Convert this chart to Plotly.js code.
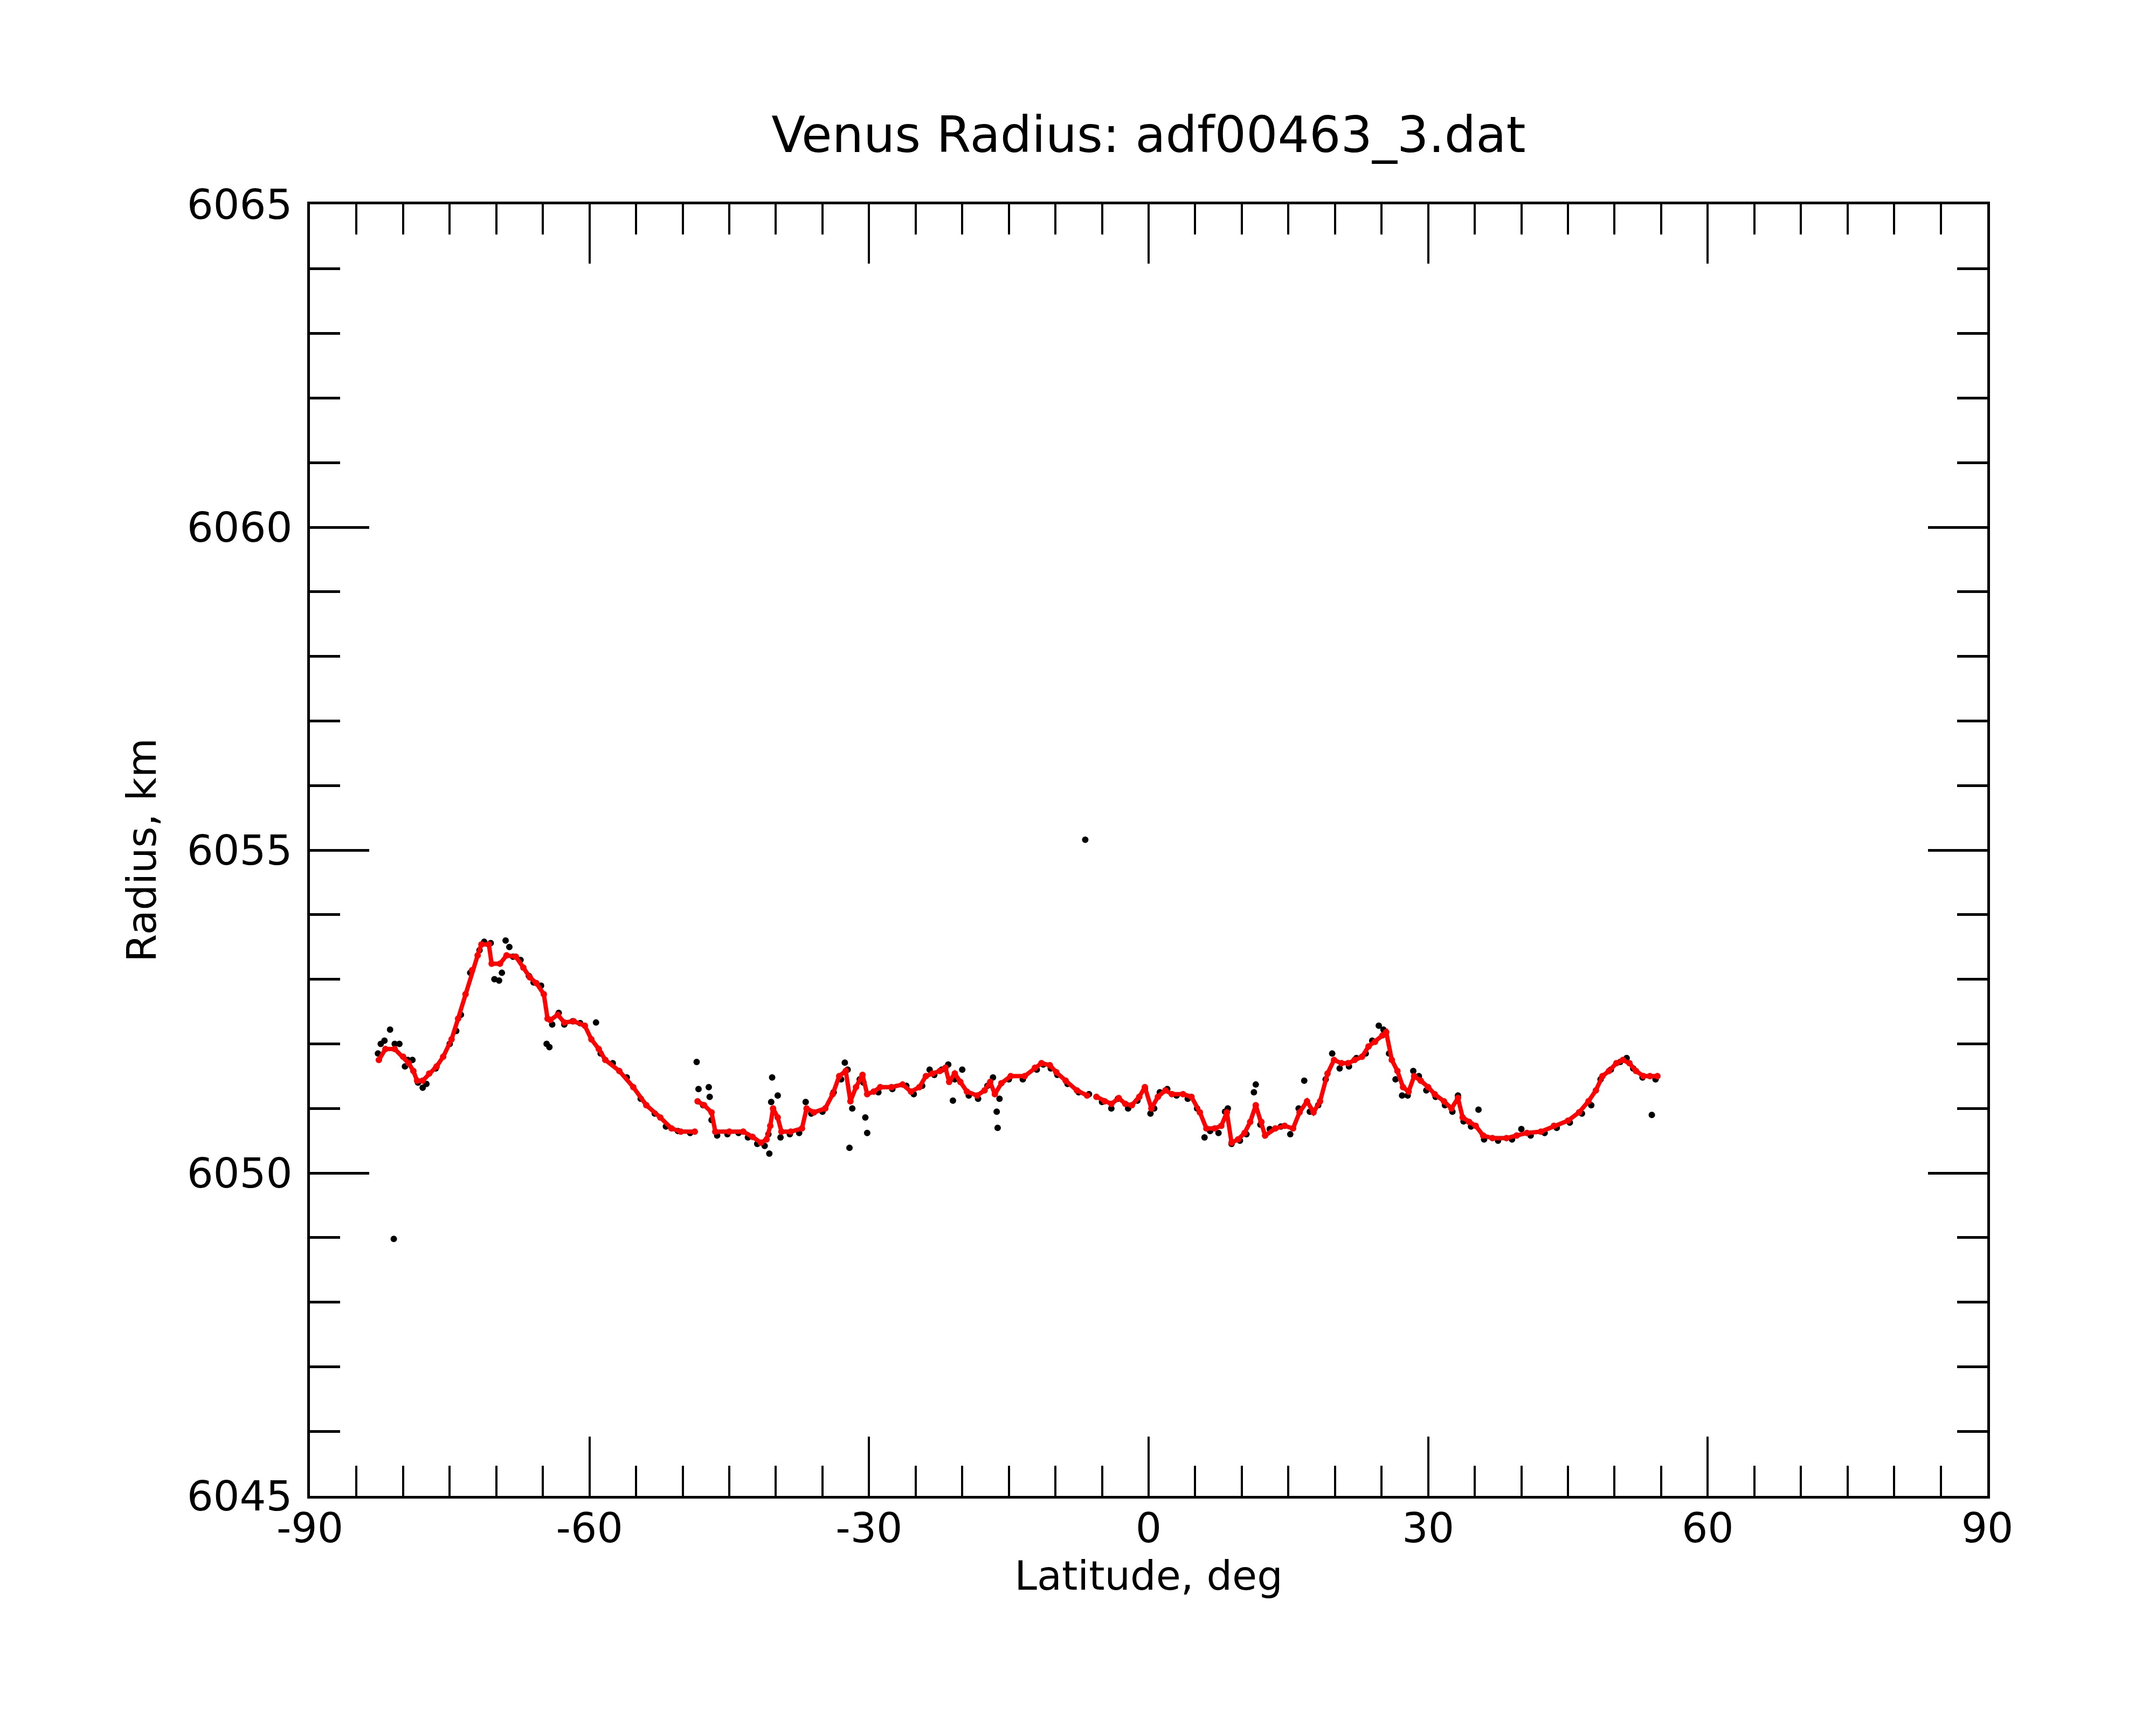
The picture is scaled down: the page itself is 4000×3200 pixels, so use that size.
<!DOCTYPE html>
<html>
<head>
<meta charset="utf-8">
<script src="https://cdn.plot.ly/plotly-3.0.1.min.js"></script>
<style>
  body { margin: 0; background: #ffffff; }
</style>
</head>
<body>
<div id="myDiv" style="width:4000px;height:3200px;"></div>
<script>
// smoothed profile (red); null = gap in the trace
var fitLat = [-82.6,-81.9,-80.9,-80.0,-79.4,-78.9,-78.5,-77.9,-77.2,-76.4,-75.7,-74.8,-74.1,-73.3,-72.6,-72.0,-71.6,-70.8,
  -70.5,-69.6,-68.9,-67.9,-67.1,-66.4,-65.7,-64.9,-64.5,-64.2,-63.4,-62.7,-61.7,-60.5,-59.8,-59.0,-58.3,-56.8,-55.3,-53.9,
  -52.4,-51.2,-50.2,-48.7,null,
  -48.4,-47.7,-46.9,-46.5,-45.0,-43.5,-42.5,-41.6,-41.0,-40.6,-40.3,-39.8,-39.4,-38.4,-37.2,-36.7,-35.9,-34.7,-33.9,-33.2,
  -32.5,-32.0,-31.4,-30.7,-30.2,-29.5,-28.8,-27.6,-26.4,-25.5,-24.6,-23.9,-23.2,-22.4,-21.8,-21.4,-20.8,-20.2,-19.5,-18.4,
  -17.6,-17.0,-16.5,-15.8,-14.8,-13.3,-12.2,-11.5,-10.6,-9.9,-8.9,-7.7,-6.6,null,
  -5.6,-4.7,-4.0,-3.2,-2.5,-1.8,-1.0,-0.4,0.3,1.0,1.8,2.5,3.7,4.6,5.5,6.2,7.1,7.8,8.4,8.9,9.6,10.3,10.9,11.5,12.1,12.5,13.6,
  14.6,15.5,16.2,17.0,17.7,18.4,19.2,19.9,20.7,21.4,22.1,22.9,23.6,24.3,25.1,25.5,26.1,26.7,27.3,27.9,28.5,29.2,30.0,30.7,
  31.7,32.5,33.2,33.7,34.4,35.1,35.9,36.9,38.4,39.5,40.6,42.1,43.5,45.0,46.2,47.2,48.0,48.7,49.4,50.2,50.9,51.6,52.3,53.1,
  53.8,54.6];
var fitRad = [6051.75,6051.92,6051.92,6051.80,6051.70,6051.58,6051.43,6051.43,6051.54,6051.65,6051.80,6052.07,6052.39,
  6052.77,6053.14,6053.37,6053.54,6053.54,
  6053.24,6053.24,6053.37,6053.35,6053.18,6053.03,6052.94,6052.77,6052.39,6052.37,6052.45,6052.33,6052.35,6052.28,6052.07,
  6051.92,6051.75,6051.58,6051.33,6051.05,6050.86,6050.69,6050.64,6050.64,null,
  6051.11,6051.05,6050.94,6050.64,6050.64,6050.64,6050.56,6050.47,6050.52,6050.73,6051.00,6050.86,6050.64,6050.64,6050.69,
  6051.00,6050.94,6051.00,6051.22,6051.50,6051.58,6051.11,6051.33,6051.52,6051.22,6051.26,6051.33,6051.33,6051.37,6051.26,
  6051.33,6051.50,6051.54,6051.58,6051.63,6051.41,6051.54,6051.41,6051.26,6051.20,6051.28,6051.41,6051.22,6051.39,6051.50,
  6051.50,6051.63,6051.70,6051.67,6051.56,6051.43,6051.28,6051.20,null,
  6051.18,6051.11,6051.07,6051.16,6051.07,6051.05,6051.18,6051.33,6051.00,6051.18,6051.28,6051.22,6051.22,6051.18,6050.94,
  6050.69,6050.69,6050.73,6050.94,6050.47,6050.52,6050.62,6050.79,6051.05,6050.79,6050.58,6050.69,6050.73,6050.69,6050.94,
  6051.11,6050.94,6051.11,6051.54,6051.75,6051.70,6051.70,6051.75,6051.80,6051.96,6052.03,6052.13,6052.18,6051.75,6051.58,
  6051.33,6051.26,6051.50,6051.43,6051.33,6051.22,6051.11,6051.00,6051.16,6050.86,6050.79,6050.73,6050.58,6050.54,6050.54,
  6050.58,6050.62,6050.64,6050.73,6050.81,6050.94,6051.11,6051.28,6051.50,6051.58,6051.70,6051.75,6051.70,6051.58,6051.50,
  6051.50,6051.50];

// raw radius points (black)
var rawLat = [-82.7,-82.4,-82.0,-81.4,-80.9,-80.4,-81.0,-79.8,-79.5,-79.0,-78.4,-77.9,-77.5,-76.5,-75.0,-74.3,-73.8,-72.8,
  -71.8,-71.3,-70.6,-70.2,-69.7,-69.4,-69.0,-68.6,-68.2,-67.4,-66.5,-66.0,-65.2,-64.6,-64.3,-64.0,-63.3,-62.7,-61.8,-61.0,
  -59.3,-58.8,-57.5,-56.0,-54.5,-53.0,-51.8,-50.5,-49.2,-48.5,-48.3,-47.8,-47.2,-47.1,-46.9,-46.3,-45.2,-44.0,-43.0,-42.0,
  -41.2,-40.8,-40.7,-40.5,-40.4,-39.8,-39.5,-38.5,-37.5,-36.8,-36.2,-35.0,-33.8,-33.0,-32.6,-32.3,-32.1,-31.8,-31.0,-30.6,
  -30.4,-30.2,-29.0,-27.5,-26.0,-25.2,-24.3,-23.5,-23.0,-22.2,-21.5,-21.0,-20.8,-20.0,-19.3,-18.3,-17.3,-16.7,-16.3,-16.2,
  -16.0,-15.0,-13.5,-12.0,-11.3,-10.5,-9.8,-8.7,-7.5,-6.8,-6.4,-5.0,-4.0,-3.3,-2.2,-1.2,-0.4,0.2,0.6,1.2,2.0,3.0,4.2,5.2,
  6.0,6.6,7.5,8.2,8.5,8.9,9.8,10.5,11.3,11.5,12.0,13.0,14.2,15.2,16.1,16.7,17.3,18.2,19.0,19.7,20.5,21.5,22.3,23.3,24.0,
  24.7,25.2,25.8,26.5,27.2,27.8,28.4,29.0,29.8,30.8,31.8,32.6,33.2,33.8,34.6,35.4,36.0,37.5,39.0,40.0,41.0,42.5,43.8,45.2,
  46.5,47.5,48.5,49.6,50.6,51.3,52.0,53.0,54.0,54.4];
var rawRad = [6051.85,6052.00,6052.05,6052.22,6052.00,6052.00,6048.98,6051.65,6051.75,6051.75,6051.40,6051.32,6051.38,
  6051.62,6052.00,6052.20,6052.45,6053.10,6053.45,6053.58,6053.56,6053.00,6052.98,6053.10,6053.60,6053.50,6053.35,6053.30,
  6053.05,6052.95,6052.90,6052.00,6051.95,6052.30,6052.48,6052.30,6052.35,6052.32,6052.33,6051.85,6051.70,6051.48,6051.15,
  6050.92,6050.72,6050.65,6050.62,6051.72,6051.30,6051.05,6051.33,6051.18,6050.82,6050.58,6050.60,6050.62,6050.55,6050.45,
  6050.42,6050.60,6050.30,6051.10,6051.48,6051.20,6050.55,6050.60,6050.62,6051.10,6050.92,6050.95,6051.25,6051.45,6051.71,
  6051.60,6050.39,6051.00,6051.45,6051.40,6050.86,6050.62,6051.25,6051.30,6051.35,6051.22,6051.35,6051.60,6051.52,6051.60,
  6051.68,6051.12,6051.45,6051.60,6051.20,6051.15,6051.35,6051.48,6050.95,6050.70,6051.15,6051.45,6051.45,6051.60,6051.68,
  6051.62,6051.52,6051.38,6051.25,6055.16,6051.22,6051.10,6051.00,6051.15,6051.00,6051.12,6051.30,6050.92,6051.00,6051.25,
  6051.30,6051.20,6051.15,6051.00,6050.55,6050.65,6050.62,6050.95,6051.00,6050.45,6050.50,6050.60,6051.25,6051.37,6050.75,
  6050.68,6050.72,6050.60,6051.00,6051.43,6050.95,6051.05,6051.45,6051.85,6051.62,6051.65,6051.78,6051.85,6052.05,6052.28,
  6052.22,6051.85,6051.45,6051.20,6051.20,6051.58,6051.50,6051.28,6051.18,6051.05,6050.95,6051.20,6050.80,6050.72,6050.98,
  6050.52,6050.50,6050.52,6050.68,6050.58,6050.62,6050.70,6050.78,6050.92,6051.05,6051.45,6051.60,6051.72,6051.78,6051.62,
  6051.48,6050.90,6051.45];

var xTickVals = [-90, -60, -30, 0, 30, 60, 90];
var xTickText = ['-90', '-60', '-30', '0', '30', '60', '90'];
var yTickVals = [6045, 6050, 6055, 6060, 6065];
var yTickText = ['6045', '6050', '6055', '6060', '6065'];

var rawTrace = {
  x: rawLat,
  y: rawRad,
  type: 'scatter',
  mode: 'markers',
  name: 'raw',
  marker: { color: '#000000', size: 12 }
};

var fitTrace = {
  x: fitLat,
  y: fitRad,
  type: 'scatter',
  mode: 'lines+markers',
  name: 'fit',
  connectgaps: false,
  line: { color: '#ff0000', width: 8 },
  marker: { color: '#ff0000', size: 12 }
};

var layout = {
  width: 4000,
  height: 3200,
  margin: { l: 575, r: 313, t: 379, b: 425, pad: 0 },
  paper_bgcolor: '#ffffff',
  plot_bgcolor: '#ffffff',
  showlegend: false,
  font: { family: 'DejaVu Sans', size: 76, color: '#000000' },
  title: {
    text: 'Venus Radius: adf00463_3.dat',
    font: { family: 'DejaVu Sans', size: 92, color: '#000000' },
    xref: 'paper', x: 0.5, xanchor: 'center',
    yref: 'container', y: 0.922, yanchor: 'middle'
  },
  xaxis: {
    range: [-90, 90],
    tickmode: 'array', tickvals: xTickVals, ticktext: xTickText,
    ticks: 'inside', ticklen: 110, tickwidth: 4, tickcolor: '#000000',
    minor: { dtick: 5, tick0: 0, ticks: 'inside', ticklen: 56, tickwidth: 4, tickcolor: '#000000', showgrid: false },
    showline: true, linewidth: 5, linecolor: '#000000', mirror: 'ticks',
    showgrid: false, zeroline: false,
    ticklabelstandoff: -10,
    tickfont: { family: 'DejaVu Sans', size: 76 },
    title: { text: 'Latitude, deg', font: { family: 'DejaVu Sans', size: 75 }, standoff: 0 },
    automargin: false
  },
  yaxis: {
    range: [6045, 6065],
    tickmode: 'array', tickvals: yTickVals, ticktext: yTickText,
    ticks: 'inside', ticklen: 110, tickwidth: 5, tickcolor: '#000000',
    minor: { dtick: 1, tick0: 6045, ticks: 'inside', ticklen: 56, tickwidth: 5, tickcolor: '#000000', showgrid: false },
    showline: true, linewidth: 5, linecolor: '#000000', mirror: 'ticks',
    showgrid: false, zeroline: false,
    ticklabelstandoff: 12,
    tickfont: { family: 'DejaVu Sans', size: 77 },
    title: { text: 'Radius, km', font: { family: 'DejaVu Sans', size: 75 }, standoff: 34 },
    automargin: false
  }
};

Plotly.newPlot('myDiv', [rawTrace, fitTrace], layout, { staticPlot: true });
</script>
</body>
</html>
